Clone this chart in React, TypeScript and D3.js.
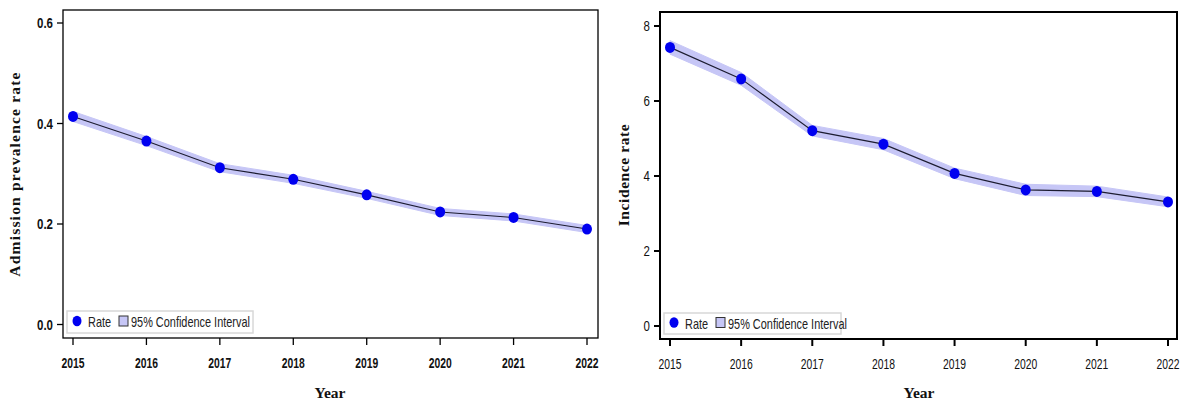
import React from "react";
import * as d3 from "d3";

const years = [2015, 2016, 2017, 2018, 2019, 2020, 2021, 2022];

const admRate = [0.414, 0.365, 0.312, 0.289, 0.258, 0.224, 0.213, 0.19];
const admLower = [0.404, 0.356, 0.304, 0.281, 0.251, 0.217, 0.206, 0.183];
const admUpper = [0.424, 0.374, 0.32, 0.297, 0.265, 0.231, 0.22, 0.197];
const admTicks = [0.0, 0.2, 0.4, 0.6];

const incRate = [7.43, 6.59, 5.21, 4.85, 4.07, 3.63, 3.59, 3.31];
const incLower = [7.25, 6.42, 5.07, 4.7, 3.93, 3.48, 3.45, 3.18];
const incUpper = [7.61, 6.76, 5.35, 5.0, 4.21, 3.78, 3.73, 3.44];
const incTicks = [0, 2, 4, 6, 8];

const sans = "'Liberation Sans', Arial, sans-serif";
const serif = "'Liberation Serif', 'Times New Roman', serif";

function NText(props: {
  x: number;
  y: number;
  sx: number;
  anchor?: "start" | "middle" | "end";
  size: number;
  weight?: number;
  fill?: string;
  dy?: string;
  children: React.ReactNode;
}) {
  return (
    <g transform={`translate(${props.x},${props.y}) scale(${props.sx},1)`}>
      <text
        x={0}
        y={0}
        dy={props.dy}
        textAnchor={props.anchor || "start"}
        fontFamily={sans}
        fontSize={props.size}
        fontWeight={props.weight || 400}
        fill={props.fill || "#111"}
      >
        {props.children}
      </text>
    </g>
  );
}

type PanelProps = {
  frame: { x0: number; x1: number; y0: number; y1: number; sw: number };
  xRange: [number, number];
  yDomain: [number, number];
  yRange: [number, number];
  rate: number[];
  lower: number[];
  upper: number[];
  ticks: number[];
  tickFmt: (v: number) => string;
  tickBold: boolean;
  yTitle: string;
  yTitleX: number;
  yTitleY: number;
  yTitleSpacing: number;
  yearX: number;
  legend: { x: number; y: number; w: number; h: number };
};

function Panel(p: PanelProps) {
  const x = d3.scaleLinear().domain([2015, 2022]).range(p.xRange);
  const y = d3.scaleLinear().domain(p.yDomain).range(p.yRange);
  const idx = years.map((_, i) => i);
  const area = d3
    .area<number>()
    .x((i) => x(years[i]))
    .y0((i) => y(p.lower[i]))
    .y1((i) => y(p.upper[i]));
  const line = d3
    .line<number>()
    .x((i) => x(years[i]))
    .y((i) => y(p.rate[i]));
  const f = p.frame;
  const fw = p.tickBold ? 700 : 400;
  const lg = p.legend;
  const my = lg.y + lg.h / 2;
  return (
    <g>
      <path d={area(idx) || ""} fill="#c6c6f6" stroke="#c6c6f6" strokeWidth={1} strokeLinejoin="round" />
      <path d={line(idx) || ""} fill="none" stroke="#1c1c30" strokeWidth={1.1} />
      {idx.map((i) => (
        <ellipse key={i} cx={x(years[i])} cy={y(p.rate[i])} rx={5} ry={5.5} fill="#0000f0" />
      ))}
      <rect x={f.x0} y={f.y0} width={f.x1 - f.x0} height={f.y1 - f.y0} fill="none" stroke="#000" strokeWidth={f.sw} />
      {p.ticks.map((t) => (
        <g key={t}>
          <line x1={f.x0 - 6} x2={f.x0} y1={y(t)} y2={y(t)} stroke="#000" strokeWidth={f.sw} />
          <NText x={f.x0 - 10} y={y(t)} dy="0.36em" sx={0.82} anchor="end" size={14} weight={fw}>
            {p.tickFmt(t)}
          </NText>
        </g>
      ))}
      {years.map((yr) => (
        <g key={yr}>
          <line x1={x(yr)} x2={x(yr)} y1={f.y1} y2={f.y1 + 7} stroke="#000" strokeWidth={f.sw} />
          <NText x={x(yr)} y={f.y1 + 30} sx={0.74} anchor="middle" size={14} weight={fw}>
            {yr}
          </NText>
        </g>
      ))}
      <text
        transform={`translate(${p.yTitleX},${p.yTitleY}) rotate(-90)`}
        textAnchor="middle"
        fontFamily={serif}
        fontSize={15.5}
        fontWeight={700}
        letterSpacing={p.yTitleSpacing}
        fill="#111"
      >
        {p.yTitle}
      </text>
      <text x={p.yearX} y={398} textAnchor="middle" fontFamily={serif} fontSize={15.5} fontWeight={700} fill="#111">
        Year
      </text>
      <rect x={lg.x} y={lg.y} width={lg.w} height={lg.h} fill="#fff" stroke="#d8d8d8" strokeWidth={1.5} />
      <ellipse cx={lg.x + 10} cy={my - 1} rx={4.5} ry={5.2} fill="#0000f0" />
      <NText x={lg.x + 21} y={my + 5} sx={0.78} size={14} fill="#222">
        Rate
      </NText>
      <rect x={lg.x + 52} y={my - 6} width={9} height={10} fill="#c6c6f6" stroke="#333" strokeWidth={1} />
      <NText x={lg.x + 64} y={my + 5} sx={0.78} size={14} fill="#222">
        95% Confidence Interval
      </NText>
    </g>
  );
}

export default function App() {
  return (
    <svg width={1180} height={403} style={{ position: "absolute", left: 0, top: 0, background: "#fff" }}>
      <Panel
        frame={{ x0: 63, x1: 598, y0: 10, y1: 338, sw: 1.3 }}
        xRange={[73, 587]}
        yDomain={[0, 0.6]}
        yRange={[324.5, 23]}
        rate={admRate}
        lower={admLower}
        upper={admUpper}
        ticks={admTicks}
        tickFmt={(v) => v.toFixed(1)}
        tickBold={true}
        yTitle="Admission prevalence rate"
        yTitleX={20}
        yTitleY={174}
        yTitleSpacing={1.2}
        yearX={330}
        legend={{ x: 67, y: 311, w: 186, h: 22 }}
      />
      <Panel
        frame={{ x0: 660, x1: 1177, y0: 12, y1: 339, sw: 2 }}
        xRange={[670, 1168]}
        yDomain={[0, 8]}
        yRange={[326, 26]}
        rate={incRate}
        lower={incLower}
        upper={incUpper}
        ticks={incTicks}
        tickFmt={(v) => String(v)}
        tickBold={false}
        yTitle="Incidence rate"
        yTitleX={629}
        yTitleY={175}
        yTitleSpacing={0.6}
        yearX={919}
        legend={{ x: 664, y: 313, w: 177, h: 21 }}
      />
    </svg>
  );
}
